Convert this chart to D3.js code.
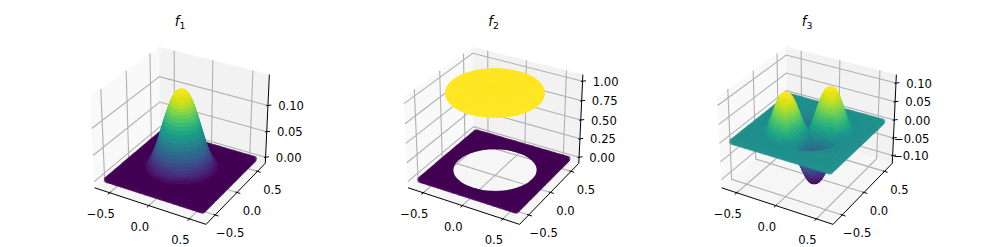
<!DOCTYPE html>
<html lang="en">
<head>
  <meta charset="UTF-8">
  <title>f1 f2 f3 surfaces</title>
  <script src="https://d3js.org/d3.v7.js"></script>
  <style>
    body { margin: 0; background: #fff; }
    svg { display: block; }
    text { font-family: "DejaVu Sans", sans-serif; font-size: 11.6px; fill: #000; }
  </style>
</head>
<body>
  <svg id="chart" width="987" height="247">
    <defs><filter id="soft" x="-5%" y="-5%" width="110%" height="110%"><feGaussianBlur stdDeviation="0.4"/></filter></defs>
  </svg>

  <script>
    // heights, one per ring, ring radius = ringRadii[k]
    const ringRadii = d3.range(41).map(k => k * 0.0125);
    const f1Ring = [0.145, 0.1446, 0.1436, 0.1418, 0.1393, 0.1361, 0.1324, 0.128, 0.1231, 0.1178,
      0.112, 0.1059, 0.0994, 0.0928, 0.086, 0.0791, 0.0722, 0.0654, 0.0587, 0.0521,
      0.0459, 0.0399, 0.0343, 0.0291, 0.0243, 0.02, 0.0161, 0.0127, 0.0098, 0.0073,
      0.0053, 0.0037, 0.0024, 0.0015, 0.0009, 0.0004, 0.0002, 0.0001, 0, 0, 0];
    const f2Ring = [1, 1, 1, 1, 1, 1, 1, 1, 1, 1, 1, 1, 1, 1, 1, 1, 1, 1, 1, 1,
      1, 1, 1, 1, 1, 1, 1, 1, 1, 1, 1, 1, 1, 1, 1, 1, 1, 1, 1, 1, 1];
    // f3 along the lobe axis (the 45 degree diagonal)
    const f3Ring = [0, 0.0006, 0.0025, 0.0055, 0.0097, 0.0149, 0.0209, 0.0277, 0.0352, 0.0431,
      0.0513, 0.0594, 0.0675, 0.0751, 0.0824, 0.0888, 0.0944, 0.0988, 0.1021, 0.1042,
      0.1049, 0.1042, 0.102, 0.0986, 0.0938, 0.0878, 0.081, 0.0731, 0.0648, 0.0559,
      0.0468, 0.038, 0.0298, 0.0221, 0.0154, 0.0098, 0.0056, 0.0026, 0.0009, 0.0001, 0];
    // share of the lobe height every 3 degrees across one quadrant
    const lobeShare = [0, 0.105, 0.208, 0.309, 0.407, 0.5, 0.588, 0.669, 0.743, 0.809, 0.866, 0.914, 0.951, 0.978, 0.995, 1,
      0.995, 0.978, 0.951, 0.914, 0.866, 0.809, 0.743, 0.669, 0.588, 0.5, 0.407, 0.309, 0.208, 0.105];
    const quadrantSign = [1, -1, 1, -1];

    const planeAxis = d3.range(49).map(i => -0.6 + i * 0.025);
    const rimRadii = [0.5, 0.5125, 0.525, 0.5375];
    const xyTicks = [-0.5, 0, 0.5];
    const f1Ticks = [0, 0.05, 0.1];
    const f2Ticks = [0, 0.25, 0.5, 0.75, 1];
    const f3Ticks = [-0.1, -0.05, 0, 0.05, 0.1];
    const titles = ["1", "2", "3"];

    const titleCx = [180, 493.5, 807];
    const panelCx = [181.5, 495, 808.5];
    const panelCy = 131.5;
    const pxPerUnit = 1075;
    const fmtXY = d3.format(".1f");
    const fmtZ = d3.format(".2f");
    const rad = Math.PI / 180;

    const svg = d3.select("#chart");
    svg.insert("rect", "defs").attr("width", 987).attr("height", 247).attr("fill", "#fff");

    // matplotlib mplot3d camera: elev 30, azim -60, dist 10, box 4:4:3 (z stretched a little to fit)
    const boxXY = 1.1905, boxZ = 0.964, dist = 10;
    const eyeDir = [Math.cos(30 * rad) * Math.cos(-60 * rad), Math.cos(30 * rad) * Math.sin(-60 * rad), Math.sin(30 * rad)];
    const cross = (a, b) => [a[1] * b[2] - a[2] * b[1], a[2] * b[0] - a[0] * b[2], a[0] * b[1] - a[1] * b[0]];
    const dot = (a, b) => a[0] * b[0] + a[1] * b[1] + a[2] * b[2];
    const camU = (() => { const c = cross([0, 0, 1], eyeDir); const n = Math.hypot(...c); return c.map(v => v / n); })();
    const camV = cross(eyeDir, camU);
    const eye = [boxXY / 2, boxXY / 2, boxZ / 2].map((v, i) => v + dist * eyeDir[i]);

    function drawPanel(index, rings, ticks, useLobes) {
      const cx = panelCx[index];
      const g = svg.append("g");

      const peak = d3.max(rings);
      const zMin = useLobes ? -peak : d3.min(rings.concat(0));
      const zPad = (peak - zMin) / 12;
      const xScale = d3.scaleLinear().domain([-0.7, 0.7]).range([0, boxXY]);
      const yScale = xScale;
      const zScale = d3.scaleLinear().domain([zMin - zPad, peak + zPad]).range([0, boxZ]);
      const colour = d3.scaleSequential(d3.interpolateViridis).domain([zMin, peak]);
      const pxX = d3.scaleLinear().domain([-0.1, 0.1]).range([cx - pxPerUnit * 0.1, cx + pxPerUnit * 0.1]);
      const pxY = d3.scaleLinear().domain([-0.1, 0.1]).range([panelCy + pxPerUnit * 0.1, panelCy - pxPerUnit * 0.1]);

      const project = (x, y, z) => {
        const d = [xScale(x) - eye[0], yScale(y) - eye[1], zScale(z) - eye[2]];
        const depth = dot(eyeDir, d);
        return [pxX(dot(camU, d) / -depth), pxY(dot(camV, d) / -depth), depth];
      };
      const polyline = pts => d3.line()(pts.map(p => project(...p)));

      const [xLo, xHi] = xScale.domain();
      const [zLo, zHi] = zScale.domain();

      // panes
      g.append("path").attr("d", polyline([[xLo, xLo, zLo], [xLo, xHi, zLo], [xLo, xHi, zHi], [xLo, xLo, zHi]]) + "Z").attr("fill", "#f9f9f9");
      g.append("path").attr("d", polyline([[xLo, xHi, zLo], [xHi, xHi, zLo], [xHi, xHi, zHi], [xLo, xHi, zHi]]) + "Z").attr("fill", "#f2f2f2");
      g.append("path").attr("d", polyline([[xLo, xLo, zLo], [xHi, xLo, zLo], [xHi, xHi, zLo], [xLo, xHi, zLo]]) + "Z").attr("fill", "#f6f6f6");

      // grid
      const gridPaths = [];
      xyTicks.forEach(t => {
        gridPaths.push(polyline([[t, xLo, zLo], [t, xHi, zLo], [t, xHi, zHi]]));
        gridPaths.push(polyline([[xHi, t, zLo], [xLo, t, zLo], [xLo, t, zHi]]));
      });
      ticks.forEach(t => gridPaths.push(polyline([[xHi, xHi, t], [xLo, xHi, t], [xLo, xLo, t]])));
      g.append("path").attr("d", gridPaths.join("")).attr("fill", "none").attr("stroke", "#b0b0b0").attr("stroke-width", 1.1);

      // axis lines and ticks
      const axisPaths = [
        polyline([[xLo, xLo, zLo], [xHi, xLo, zLo]]),
        polyline([[xHi, xLo, zLo], [xHi, xHi, zLo]]),
        polyline([[xHi, xHi, zLo], [xHi, xHi, zHi]])
      ];
      const tickOut = 0.04, tickIn = 0.02;
      xyTicks.forEach(t => {
        axisPaths.push(polyline([[t, xLo - tickOut, zLo], [t, xLo + tickIn, zLo]]));
        axisPaths.push(polyline([[xHi + tickOut, t, zLo], [xHi - tickIn, t, zLo]]));
      });
      ticks.forEach(t => axisPaths.push(polyline([[xHi + tickOut * 0.7, xHi + tickOut * 0.7, t], [xHi - tickIn * 0.7, xHi - tickIn * 0.7, t]])));
      g.append("path").attr("d", axisPaths.join("")).attr("fill", "none").attr("stroke", "#000").attr("stroke-width", 1);

      // marks: flat square outside the disk with a rim round the hole, rings inside it
      const points = [];
      planeAxis.forEach(x => planeAxis.forEach(y => {
        if (Math.hypot(x, y) > 0.5) points.push({ x, y, value: 0 });
      }));
      rimRadii.forEach(r => d3.range(120).forEach(a => {
        points.push({ x: r * Math.cos(a * 3 * rad), y: r * Math.sin(a * 3 * rad), value: 0 });
      }));
      ringRadii.forEach((r, k) => {
        d3.range(120).forEach(a => {
          const theta = a * 3 * rad;
          const value = useLobes ? rings[k] * lobeShare[a % 30] * quadrantSign[Math.floor(a / 30)] : rings[k];
          points.push({ x: r * Math.cos(theta), y: r * Math.sin(theta), value });
        });
      });
      points.forEach(p => { [p.px, p.py, p.depth] = project(p.x, p.y, p.value); });
      points.sort((a, b) => a.depth - b.depth);

      g.append("g").attr("filter", "url(#soft)").selectAll("circle")
        .data(points)
        .join("circle")
        .attr("cx", d => d.px.toFixed(1))
        .attr("cy", d => d.py.toFixed(1))
        .attr("r", 3.1)
        .attr("fill", d => colour(d.value))
        .attr("fill-opacity", 0.75);

      // tick labels
      const label = (x, y, text, anchor) => g.append("text")
        .attr("x", x).attr("y", y).attr("text-anchor", anchor || "middle").attr("dy", "0.36em").text(text);
      xyTicks.forEach(t => {
        const [px, py] = project(t, xLo, zLo);
        label(px - 9, py + 21, fmtXY(t));
        const [qx, qy] = project(xHi, t, zLo);
        label(qx + 15, qy + 18, fmtXY(t));
      });
      ticks.forEach(t => {
        const [px, py] = project(xHi, xHi, t);
        label(px + 36, py + 0.5, fmtZ(t), "end");
      });

      // title
      const title = g.append("text").attr("x", titleCx[index]).attr("y", 26).attr("text-anchor", "middle").style("font-size", "13.3px");
      title.append("tspan").attr("font-style", "italic").text("f");
      title.append("tspan").attr("dy", 2.5).style("font-size", "9.3px").text(titles[index]);
    }

    drawPanel(0, f1Ring, f1Ticks, false);
    drawPanel(1, f2Ring, f2Ticks, false);
    drawPanel(2, f3Ring, f3Ticks, true);
  </script>
</body>
</html>
